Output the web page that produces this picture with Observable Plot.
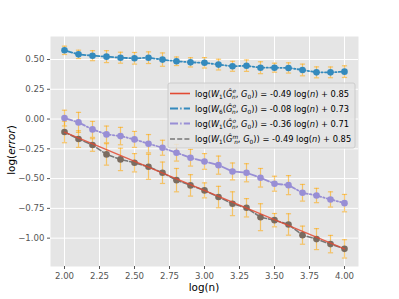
<!DOCTYPE html>
<html>
<head>
<meta charset="utf-8">
<script src="https://cdn.jsdelivr.net/npm/d3@7"></script>
<script src="https://cdn.jsdelivr.net/npm/@observablehq/plot@0.6"></script>
<style>
  html, body { margin: 0; padding: 0; background: #ffffff; }
  svg { display: block; }
</style>
</head>
<body>
<div id="chart"></div>
<script>
const logN = [2.0, 2.1, 2.2, 2.3, 2.4, 2.5, 2.6, 2.7, 2.8, 2.9, 3.0, 3.1, 3.2, 3.3, 3.4, 3.5, 3.6, 3.7, 3.8, 3.9, 4.0];
const blueY = [0.577, 0.543, 0.532, 0.524, 0.515, 0.510, 0.515, 0.499, 0.485, 0.476, 0.472, 0.457, 0.443, 0.448, 0.431, 0.431, 0.429, 0.412, 0.392, 0.392, 0.398];
const blueErr = [0.035, 0.035, 0.042, 0.05, 0.046, 0.049, 0.049, 0.056, 0.036, 0.039, 0.044, 0.045, 0.042, 0.048, 0.05, 0.038, 0.043, 0.049, 0.046, 0.045, 0.049];
const purpleY = [0.008, -0.028, -0.087, -0.129, -0.143, -0.171, -0.207, -0.241, -0.283, -0.325, -0.356, -0.387, -0.440, -0.451, -0.493, -0.543, -0.555, -0.619, -0.642, -0.675, -0.706];
const purpleErr = [0.066, 0.084, 0.067, 0.07, 0.073, 0.067, 0.077, 0.063, 0.07, 0.07, 0.066, 0.076, 0.071, 0.076, 0.078, 0.063, 0.08, 0.07, 0.06, 0.064, 0.073];
const grayY = [-0.109, -0.168, -0.218, -0.297, -0.339, -0.367, -0.401, -0.451, -0.513, -0.557, -0.599, -0.655, -0.711, -0.745, -0.824, -0.849, -0.885, -0.975, -1.008, -1.050, -1.090];
const grayErr = [0.09, 0.07, 0.053, 0.09, 0.094, 0.077, 0.105, 0.09, 0.098, 0.09, 0.063, 0.09, 0.10, 0.077, 0.113, 0.056, 0.09, 0.076, 0.088, 0.073, 0.077];
const fitX = [2.0, 4.0];
const fitY = [-0.11, -1.09];
const xTicks = [2.0, 2.25, 2.5, 2.75, 3.0, 3.25, 3.5, 3.75, 4.0];
const yTicks = [-1.0, -0.75, -0.5, -0.25, 0.0, 0.25, 0.5];

const C = { red: "#E24A33", blue: "#348ABD", purple: "#988ED5", gray: "#777777", grayDot: "#7a6c60", err: "orange" };

const mk = (ys, es) => logN.map((x, i) => ({ x, y: ys[i], lo: ys[i] - es[i], hi: ys[i] + es[i] }));
const blue = mk(blueY, blueErr);
const purple = mk(purpleY, purpleErr);
const gray = mk(grayY, grayErr);
const fit = fitX.map((x, i) => ({ x, y: fitY[i] }));

const cap = { draw(ctx, size) { const w = Math.sqrt(size / Math.PI); ctx.moveTo(-w, 0); ctx.lineTo(w, 0); } };

function errMarks(data) {
  return [
    Plot.ruleX(data, { x: "x", y1: "lo", y2: "hi", stroke: C.err, strokeOpacity: 0.55, strokeWidth: 1.2 }),
    Plot.dot(data, { x: "x", y: "lo", symbol: cap, r: 2.6, stroke: C.err, strokeOpacity: 0.55, strokeWidth: 1.2, fill: "none" }),
    Plot.dot(data, { x: "x", y: "hi", symbol: cap, r: 2.6, stroke: C.err, strokeOpacity: 0.55, strokeWidth: 1.2, fill: "none" })
  ];
}

const svg = Plot.plot({
  width: 399,
  height: 299,
  marginLeft: 50,
  marginRight: 41,
  marginTop: 36,
  marginBottom: 33,
  style: { fontFamily: "DejaVu Sans, sans-serif", fontSize: "8.6px", background: "#ffffff" },
  x: { domain: [1.9, 4.1], label: null },
  y: { domain: [-1.238, 0.693], label: null },
  marks: [
    Plot.frame({ fill: "#E5E5E5", stroke: null }),
    Plot.gridX(xTicks, { stroke: "#ffffff", strokeOpacity: 1, strokeWidth: 1 }),
    Plot.gridY(yTicks, { stroke: "#ffffff", strokeOpacity: 1, strokeWidth: 1 }),
    Plot.axisX(xTicks, { tickFormat: d3.format(".2f"), tickSize: 3, tickPadding: 3, color: "#555555" }),
    Plot.axisY(yTicks, { tickFormat: d3.format(".2f"), tickSize: 3, tickPadding: 3, color: "#555555" }),
    ...errMarks(blue),
    ...errMarks(purple),
    ...errMarks(gray),
    Plot.line(blue, { x: "x", y: "y", stroke: C.blue, strokeWidth: 1.8, strokeDasharray: "8,2.2,1.4,2.2" }),
    Plot.dot(blue, { x: "x", y: "y", r: 3.3, fill: C.blue }),
    Plot.line(purple, { x: "x", y: "y", stroke: C.purple, strokeWidth: 1.8, strokeDasharray: "8,2.2,1.4,2.2" }),
    Plot.dot(purple, { x: "x", y: "y", r: 3.3, fill: C.purple }),
    Plot.line(gray, { x: "x", y: "y", stroke: C.gray, strokeWidth: 1.6, strokeDasharray: "5,2.2" }),
    Plot.dot(gray, { x: "x", y: "y", r: 3.3, fill: C.grayDot }),
    Plot.line(fit, { x: "x", y: "y", stroke: C.red, strokeWidth: 1.4, strokeOpacity: 0.85 })
  ]
});

document.getElementById("chart").appendChild(svg);

const root = d3.select(svg);
const FONT = "DejaVu Sans, sans-serif";

function mathText(sel, parts, size) {
  let cur = 0;
  parts.forEach(p => {
    const s = p.sub ? size * 0.3 : p.sup ? -size * 0.4 : 0;
    const t = sel.append("tspan").text(p.t).attr("dy", (s - cur).toFixed(2));
    if (p.dx) t.attr("dx", p.dx);
    if (p.it) t.attr("font-style", "italic");
    if (p.sub || p.sup) t.attr("font-size", (size * 0.7).toFixed(2) + "px");
    cur = s;
  });
  if (cur !== 0) sel.append("tspan").text("\u200b").attr("dy", (-cur).toFixed(2));
}

// axis labels
const xl = root.append("text").attr("x", 204).attr("y", 291).attr("text-anchor", "middle")
  .attr("font-family", FONT).attr("font-size", "10.4px").attr("fill", "#000");
xl.text("log(n)");
const yl = root.append("text").attr("transform", "translate(15,150) rotate(-90)").attr("text-anchor", "middle")
  .attr("font-family", FONT).attr("font-size", "10.4px").attr("fill", "#000");
mathText(yl, [{ t: "log(" }, { t: "error", it: true }, { t: ")" }], 10.4);

// legend
const legendLabels = [
  { sup: "e", wsub: "1", rest: " = -0.49 log(", c: "0.85" },
  { sup: "o", wsub: "6", rest: " = -0.08 log(", c: "0.73" },
  { sup: "o", wsub: "1", rest: " = -0.36 log(", c: "0.71" },
  { sup: "m", wsub: "1", rest: " = -0.49 log(", c: "0.85" }
];
const legendStyles = [
  { stroke: C.red, dash: null, w: 1.6 },
  { stroke: C.blue, dash: "8,2.2,1.4,2.2", w: 1.8 },
  { stroke: C.purple, dash: "8,2.2,1.4,2.2", w: 1.8 },
  { stroke: C.gray, dash: "5,2.2", w: 1.6 }
];
const LFS = 8.3;
const lg = root.append("g");
lg.append("rect").attr("x", 168).attr("y", 83).attr("width", 187).attr("height", 65)
  .attr("rx", 2).attr("fill", "#E5E5E5").attr("fill-opacity", 0.85).attr("stroke", "#cccccc").attr("stroke-width", 1);
const rowY = [93.5, 108.5, 123.5, 139];
legendLabels.forEach((L, i) => {
  const y = rowY[i];
  const st = legendStyles[i];
  const ln = lg.append("line").attr("x1", 170).attr("x2", 190).attr("y1", y).attr("y2", y)
    .attr("stroke", st.stroke).attr("stroke-width", st.w);
  if (st.dash) ln.attr("stroke-dasharray", st.dash);
  const t = lg.append("text").attr("x", 195).attr("y", y + 3).attr("font-family", FONT)
    .attr("font-size", LFS + "px").attr("fill", "#000").attr("text-anchor", "start");
  mathText(t, [
    { t: "log(" }, { t: "W", it: true }, { t: L.wsub, sub: true }, { t: "(" },
    { t: "G\u0302", it: true }, { t: L.sup, sup: true, it: true }, { t: "n", sub: true, it: true, dx: -4 },
    { t: ", " }, { t: "G", it: true }, { t: "0", sub: true }, { t: "))" + L.rest },
    { t: "n", it: true }, { t: ") + " + L.c }
  ], LFS);
});
</script>
</body>
</html>
